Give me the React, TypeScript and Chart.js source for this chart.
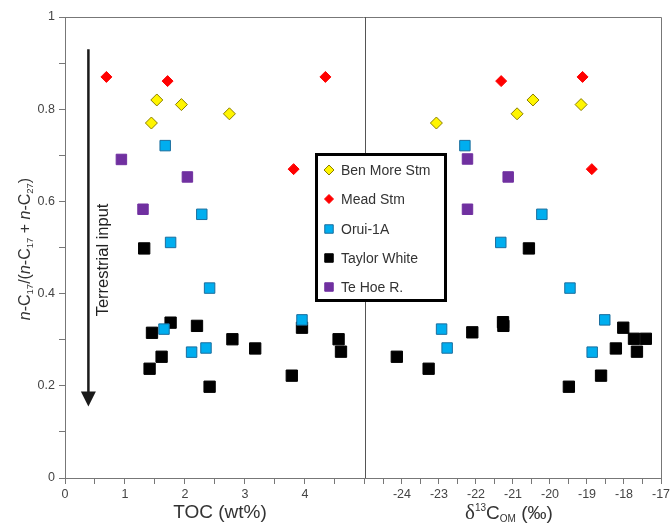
import React, { useEffect, useRef } from 'react';
import { Chart, registerables } from 'chart.js';

Chart.register(...registerables);

// ---- data ----
const seriesNames = ['Ben More Stm', 'Mead Stm', 'Orui-1A', 'Taylor White', 'Te Hoe R.'];

// TOC panel (x = TOC wt%, y = ratio)
const benMoreTocX = [1.53, 1.44, 1.94, 2.74];
const benMoreTocY = [0.82, 0.77, 0.81, 0.79];
const meadTocX = [0.69, 1.71, 4.34, 3.81];
const meadTocY = [0.87, 0.861, 0.87, 0.67];
const oruiTocX = [1.67, 2.28, 1.76, 2.41, 1.65, 2.11, 2.35, 3.95];
const oruiTocY = [0.721, 0.572, 0.511, 0.412, 0.323, 0.273, 0.282, 0.343];
const taylorTocX = [1.32, 1.45, 1.76, 2.2, 1.61, 1.41, 2.41, 2.79, 3.17, 3.78, 3.95, 4.56, 4.6];
const taylorTocY = [0.498, 0.315, 0.337, 0.33, 0.263, 0.237, 0.198, 0.301, 0.281, 0.222, 0.326, 0.301, 0.274];
const teHoeTocX = [0.94, 2.04, 1.3];
const teHoeTocY = [0.691, 0.653, 0.583];

// d13C panel (x = d13C OM permil, y = ratio)
const benMoreD13cX = [-23.07, -20.89, -20.46, -19.16];
const benMoreD13cY = [0.77, 0.79, 0.82, 0.81];
const meadD13cX = [-21.32, -19.12, -18.87];
const meadD13cY = [0.861, 0.87, 0.67];
const oruiD13cX = [-22.3, -20.22, -21.33, -19.46, -22.93, -22.78, -18.86, -18.52];
const oruiD13cY = [0.721, 0.572, 0.511, 0.412, 0.323, 0.282, 0.273, 0.343];
const taylorD13cX = [-20.57, -24.14, -23.28, -22.1, -21.27, -21.26, -19.49, -18.62, -18.22, -18.02, -17.73, -17.41, -17.65];
const taylorD13cY = [0.498, 0.263, 0.237, 0.316, 0.338, 0.33, 0.198, 0.222, 0.281, 0.326, 0.302, 0.302, 0.274];
const teHoeD13cX = [-22.23, -21.13, -22.23];
const teHoeD13cY = [0.692, 0.653, 0.583];

// tick labels
const tocTickLabels = ['0', '1', '2', '3', '4'];
const d13cTickLabels = ['-24', '-23', '-22', '-21', '-20', '-19', '-18', '-17'];
const yTickLabels = ['0', '0.2', '0.4', '0.6', '0.8', '1'];

// ---- styles ----
const FONT = '"Liberation Sans", Arial, sans-serif';
const styles = [
  { pointStyle: 'rectRot', radius: 6, bg: '#FFF500', border: '#8a7d00', bw: 1, legendR: 5 },
  { pointStyle: 'rectRot', radius: 5.5, bg: '#FF0000', border: '#FF0000', bw: 1, legendR: 4.5 },
  { pointStyle: 'rect', radius: 7.4, bg: '#00AEEF', border: '#1a6e9e', bw: 1, legendR: 6 },
  { pointStyle: 'rect', radius: 8, bg: '#000000', border: '#000000', bw: 1, legendR: 6 },
  { pointStyle: 'rect', radius: 7.4, bg: '#7030A0', border: '#7030A0', bw: 1, legendR: 6 },
];

const panels = [
  [benMoreTocX, benMoreTocY, benMoreD13cX, benMoreD13cY],
  [meadTocX, meadTocY, meadD13cX, meadD13cY],
  [oruiTocX, oruiTocY, oruiD13cX, oruiD13cY],
  [taylorTocX, taylorTocY, taylorD13cX, taylorD13cY],
  [teHoeTocX, teHoeTocY, teHoeD13cX, teHoeD13cY],
];

type Seg = { t: string; size: number; italic?: boolean; dy?: number; family?: string };

function drawRich(ctx: CanvasRenderingContext2D, segs: Seg[], cx: number, cy: number, rotate: boolean, color: string) {
  ctx.save();
  ctx.translate(cx, cy);
  if (rotate) ctx.rotate(-Math.PI / 2);
  ctx.fillStyle = color;
  ctx.textBaseline = 'alphabetic';
  ctx.textAlign = 'left';
  const fontOf = (s: Seg) => `${s.italic ? 'italic ' : ''}${s.size}px ${s.family || FONT}`;
  let total = 0;
  for (const s of segs) {
    ctx.font = fontOf(s);
    total += ctx.measureText(s.t).width;
  }
  let x = -total / 2;
  for (const s of segs) {
    ctx.font = fontOf(s);
    ctx.fillText(s.t, x, s.dy || 0);
    x += ctx.measureText(s.t).width;
  }
  ctx.restore();
}

function drawMarker(ctx: CanvasRenderingContext2D, st: any, x: number, y: number, r: number) {
  ctx.save();
  ctx.fillStyle = st.bg;
  ctx.strokeStyle = st.border;
  ctx.lineWidth = st.bw;
  ctx.beginPath();
  if (st.pointStyle === 'rectRot') {
    ctx.moveTo(x - r, y);
    ctx.lineTo(x, y - r);
    ctx.lineTo(x + r, y);
    ctx.lineTo(x, y + r);
    ctx.closePath();
  } else {
    const s = r * Math.SQRT1_2;
    ctx.rect(x - s, y - s, 2 * s, 2 * s);
  }
  ctx.fill();
  ctx.stroke();
  ctx.restore();
}

const decorPlugin = {
  id: 'decor',
  beforeDatasetsDraw(chart: any) {
    const { ctx, chartArea: a, scales } = chart;
    ctx.save();
    ctx.strokeStyle = '#777';
    ctx.lineWidth = 1;
    ctx.beginPath();
    ctx.moveTo(a.left, a.top + 0.5);
    ctx.lineTo(a.right + 0.5, a.top + 0.5);
    ctx.lineTo(a.right + 0.5, a.bottom);
    ctx.stroke();
    // divider between panels
    const xd = Math.round(scales.xl.right) + 0.5;
    ctx.strokeStyle = '#555';
    ctx.beginPath();
    ctx.moveTo(xd, a.top);
    ctx.lineTo(xd, a.bottom);
    ctx.stroke();
    // terrestrial input arrow
    const ax = scales.xl.getPixelForValue(0.39);
    const yTop = scales.y.getPixelForValue(0.93);
    const yTip = scales.y.getPixelForValue(0.155);
    ctx.strokeStyle = '#1a1a1a';
    ctx.fillStyle = '#1a1a1a';
    ctx.lineWidth = 2.5;
    ctx.beginPath();
    ctx.moveTo(ax, yTop);
    ctx.lineTo(ax, yTip - 12);
    ctx.stroke();
    ctx.beginPath();
    ctx.moveTo(ax - 7.5, yTip - 15);
    ctx.lineTo(ax + 7.5, yTip - 15);
    ctx.lineTo(ax, yTip);
    ctx.closePath();
    ctx.fill();
    ctx.restore();
    drawRich(ctx, [{ t: 'Terrestrial input', size: 16.5 }], ax + 19.5, scales.y.getPixelForValue(0.473), true, '#222');
  },
  afterDatasetsDraw(chart: any) {
    const { ctx } = chart;
    // legend box
    ctx.save();
    ctx.fillStyle = '#fff';
    ctx.fillRect(315, 153, 132, 149);
    ctx.strokeStyle = '#000';
    ctx.lineWidth = 3;
    ctx.strokeRect(316.5, 154.5, 129, 146);
    const rows = [170, 199, 229, 258, 287];
    ctx.textBaseline = 'middle';
    ctx.textAlign = 'left';
    seriesNames.forEach((n, i) => {
      drawMarker(ctx, styles[i], 329, rows[i], styles[i].legendR);
      ctx.fillStyle = '#333';
      ctx.font = `14px ${FONT}`;
      ctx.fillText(n, 341, rows[i] + 1);
    });
    ctx.restore();
  },
  afterDraw(chart: any) {
    const { ctx, scales } = chart;
    const it = { italic: true };
    drawRich(
      ctx,
      [
        { t: 'n', size: 16, ...it }, { t: '-C', size: 16 }, { t: '17', size: 9.5, dy: 3 },
        { t: '/(', size: 16 },
        { t: 'n', size: 16, ...it }, { t: '-C', size: 16 }, { t: '17', size: 9.5, dy: 3 },
        { t: ' + ', size: 16 },
        { t: 'n', size: 16, ...it }, { t: '-C', size: 16 }, { t: '27', size: 9.5, dy: 3 },
        { t: ')', size: 16 },
      ],
      30, 249, true, '#333'
    );
    const xl = scales.xl, xr = scales.xr;
    drawRich(ctx, [{ t: 'TOC (wt%)', size: 19 }], (xl.left + xl.right) / 2 + 5, 518, false, '#333');
    drawRich(
      ctx,
      [
        { t: 'δ', size: 21, family: '"Liberation Serif", "DejaVu Serif", serif' },
        { t: '13', size: 10, dy: -8 },
        { t: 'C', size: 19 },
        { t: 'OM', size: 10, dy: 3 },
        { t: ' (‰)', size: 19 },
      ],
      (xr.left + xr.right) / 2 - 4, 519, false, '#333'
    );
  },
};

export default function App() {
  const ref = useRef<HTMLCanvasElement | null>(null);
  useEffect(() => {
    document.body.style.margin = '0';
    const datasets: any[] = [];
    panels.forEach((p, i) => {
      const st = styles[i];
      const common = {
        label: seriesNames[i],
        yAxisID: 'y',
        pointStyle: st.pointStyle,
        pointRadius: st.radius,
        pointBackgroundColor: st.bg,
        pointBorderColor: st.border,
        pointBorderWidth: st.bw,
        backgroundColor: st.bg,
        borderColor: st.border,
        showLine: false,
      };
      datasets.push({ ...common, xAxisID: 'xl', data: p[0].map((x, k) => ({ x, y: p[1][k] })) });
      datasets.push({ ...common, xAxisID: 'xr', data: p[2].map((x, k) => ({ x, y: p[3][k] })) });
    });

    const tickFont = { family: FONT, size: 12.5 };
    const grid = { display: true, drawOnChartArea: false, drawTicks: true, tickLength: 6, color: '#777' };
    const border = { display: true, color: '#777', width: 1 };

    const chart = new Chart(ref.current as HTMLCanvasElement, {
      type: 'scatter',
      data: { datasets },
      plugins: [decorPlugin as any],
      options: {
        animation: false,
        responsive: false,
        devicePixelRatio: 1,
        layout: { padding: { top: 17, right: 7, left: 0, bottom: 0 } },
        plugins: { legend: { display: false }, tooltip: { enabled: false } },
        scales: {
          xl: {
            type: 'linear', axis: 'x', position: 'bottom', stack: 'bottom', stackWeight: 301, weight: 0,
            min: 0, max: 5,
            grid, border,
            ticks: {
              stepSize: 0.5, autoSkip: false, maxRotation: 0, minRotation: 0, padding: 3, color: '#444', font: tickFont,
              callback: (v: any) => (tocTickLabels.includes(String(v)) ? String(v) : ''),
            },
            afterFit: (s: any) => { s.height = 49; s.paddingLeft = 0; s.paddingRight = 0; },
          },
          xr: {
            type: 'linear', axis: 'x', position: 'bottom', stack: 'bottom', stackWeight: 297, weight: 0,
            min: -25, max: -17,
            grid, border,
            ticks: {
              stepSize: 0.5, autoSkip: false, maxRotation: 0, minRotation: 0, padding: 3, color: '#444', font: tickFont,
              callback: (v: any) => (d13cTickLabels.includes(String(v)) ? String(v) : ''),
            },
            afterFit: (s: any) => { s.height = 49; s.paddingLeft = 0; s.paddingRight = 0; },
          },
          y: {
            type: 'linear', position: 'left', min: 0, max: 1,
            grid, border,
            ticks: {
              stepSize: 0.1, autoSkip: false, padding: 4, color: '#444', font: tickFont,
              callback: (v: any) => {
                const s = String(Math.round(v * 10) / 10);
                return yTickLabels.includes(s) ? s : '';
              },
            },
            afterFit: (s: any) => { s.width = 65; s.paddingTop = 0; s.paddingBottom = 0; },
          },
        },
      } as any,
    });
    return () => chart.destroy();
  }, []);
  return <canvas ref={ref} width={670} height={527} style={{ display: 'block' }} />;
}
